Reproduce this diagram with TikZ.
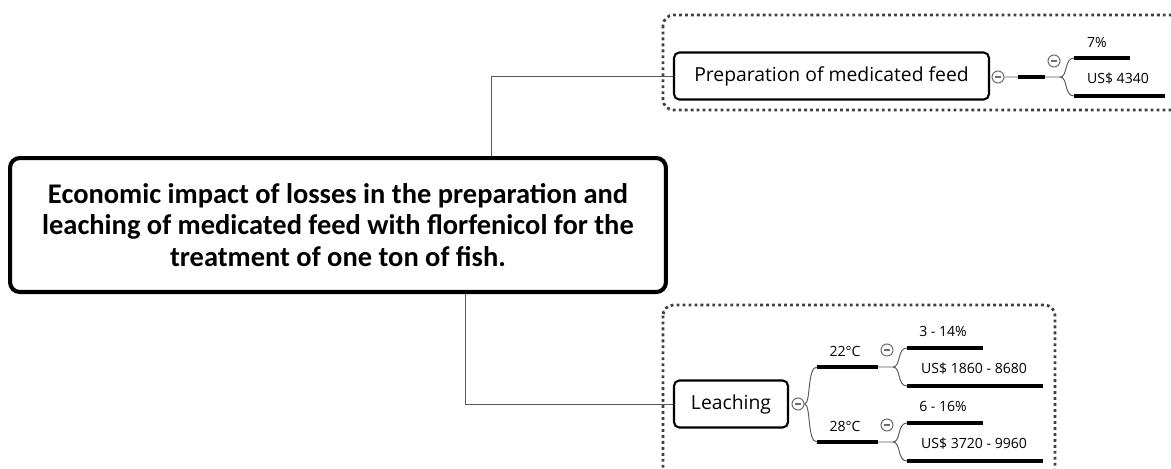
\documentclass[tikz,border=0pt]{standalone}
\usepackage{fontspec}
\setmainfont{Open Sans}
\newfontfamily\rootfont{Carlito}
\usetikzlibrary{positioning,calc}
\definecolor{linegray}{HTML}{5A5A5A}
\definecolor{dotgray}{HTML}{404040}
\definecolor{knobgray}{HTML}{6E6E6E}

\begin{document}
\begin{tikzpicture}[x=0.02cm,y=-0.02cm,
  rootbox/.style={draw,line width=2.3pt,rounded corners=5.5pt,align=center,
    minimum width=13.12cm,minimum height=2.68cm,
    font=\rootfont\bfseries\fontsize{16.2}{18}\selectfont},
  topicbox/.style={draw,line width=1.2pt,rounded corners=3pt,
    minimum height=0.94cm,font=\fontsize{11}{13}\selectfont},
  knob/.style={circle,draw=knobgray,line width=0.6pt,inner sep=0pt,minimum size=0.24cm,
    path picture={\draw[knobgray,line width=0.6pt]
      ([xshift=1.6pt]path picture bounding box.west) -- ([xshift=-1.6pt]path picture bounding box.east);}},
  leaf/.style={inner sep=0pt,font=\fontsize{8}{10}\selectfont},
  bar/.style={line width=1.9pt,line cap=butt},
  link/.style={draw=linegray,line width=0.55pt},
  dotbox/.style={draw=dotgray,line width=1.6pt,dash pattern=on 1.6pt off 1.8pt,rounded corners=6pt}]
\useasboundingbox (0,0) rectangle (1171,468);
\clip (0,0) rectangle (1171,468);

% groups
\draw[dotbox] (663,15) rectangle (1190,110);
\draw[dotbox] (663,305) rectangle (1055,480);

% topics
\node[rootbox] (root) at (338,225) {Economic impact of losses in the preparation and\\leaching of medicated feed with florfenicol for the\\treatment of one ton of fish.};
\node[topicbox,minimum width=6.3cm] (prep) at (831.5,76) {Preparation of medicated feed};
\node[topicbox,minimum width=2.28cm] (leach) at (731,404) {Leaching};

\coordinate (jtop) at (491,0);
\coordinate (jbot) at (465,0);
\path[link] (root.north -| jtop) |- (prep.west);
\path[link] (root.south -| jbot) |- (leach.west);

% preparation branch
\node[knob] (k1) at (998,77) {};
\coordinate (p0) at (1018,77);
\coordinate (p1) at (1045,77);
\coordinate (pf) at (1060,77);
\coordinate (pa) at (1074,58);
\coordinate (pb) at (1074,96);
\path[link] (k1.east) -- (p0) (p1) -- (pf)
  (pf) .. controls (1068,77) and (1064,58) .. (pa)
  (pf) .. controls (1068,77) and (1064,96) .. (pb);
\draw[bar] (p0) -- (p1);
\draw[bar] (pa) -- (1130,58);
\draw[bar] (pb) -- (1165,96);
\node[knob] (k2) at (1054,61) {};
\node[leaf] (pct1) at (1097,42) {7\%};
\node[leaf] (usd1) at (1118,79) {US\$ 4340};

% leaching branch
\node[knob] (k3) at (798,404) {};
\coordinate (la) at (817,367);
\coordinate (lb) at (817,442);
\path[link] (k3.east) .. controls (811,404) and (807,367) .. (la)
  (k3.east) .. controls (811,404) and (807,442) .. (lb);
\foreach \y/\t/\pc/\us in {367/22/3 - 14/1860 - 8680, 442/28/6 - 16/3720 - 9960}{
  \coordinate (t0) at (817,\y);
  \coordinate (t1) at (878,\y);
  \coordinate (tf) at (893,\y);
  \coordinate (ta) at (907,\y-19);
  \coordinate (tb) at (907,\y+19);
  \draw[bar] (t0) -- (t1);
  \path[link] (t1) -- (tf)
    (tf) .. controls (901,\y) and (897,\y-19) .. (ta)
    (tf) .. controls (901,\y) and (897,\y+19) .. (tb);
  \draw[bar] (ta) -- (983,\y-19);
  \draw[bar] (tb) -- (1043,\y+19);
  \node[leaf] (temp\t) at (845,\y-16) {\t°C};
  \node[knob] (k\t) at (887,\y-17) {};
  \node[leaf] (pct\t) at (943,\y-36) {\pc\%};
  \node[leaf] (usd\t) at (974,\y+2) {US\$ \us};
}
\end{tikzpicture}
\end{document}
